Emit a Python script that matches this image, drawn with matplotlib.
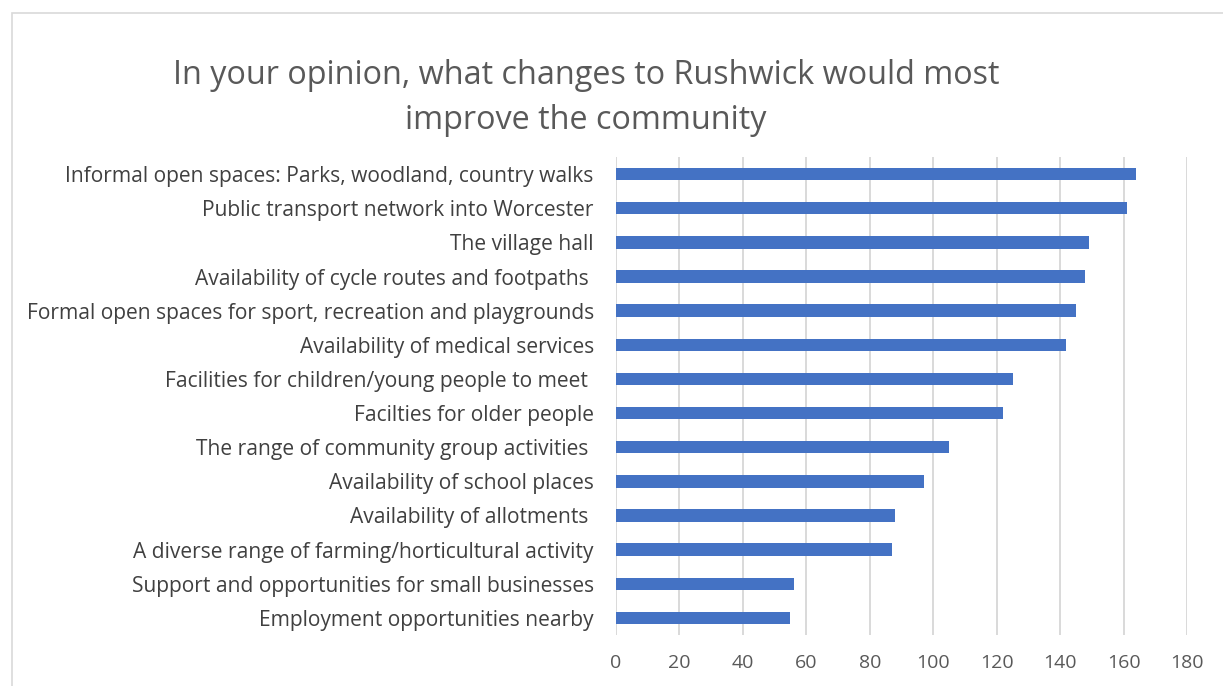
import matplotlib.pyplot as plt
from matplotlib.patches import Rectangle

plt.rcParams['font.family'] = ['Open Sans', 'DejaVu Sans']

# survey answers, top to bottom as shown
labels = [
    "Informal open spaces: Parks, woodland, country walks",
    "Public transport network into Worcester",
    "The village hall",
    "Availability of cycle routes and footpaths ",
    "Formal open spaces for sport, recreation and playgrounds",
    "Availability of medical services",
    "Facilities for children/young people to meet ",
    "Facilties for older people",
    "The range of community group activities ",
    "Availability of school places",
    "Availability of allotments ",
    "A diverse range of farming/horticultural activity",
    "Support and opportunities for small businesses",
    "Employment opportunities nearby",
]
counts = [164, 161, 149, 148, 145, 142, 125, 122, 105, 97, 88, 87, 56, 55]
xticks = [0, 20, 40, 60, 80, 100, 120, 140, 160, 180]

W, H = 1223, 686
fig = plt.figure(figsize=(W / 100, H / 100), dpi=100)

# light chart-area border
fig.patches.append(Rectangle((12 / W, -0.1), 1.2, 1.1 - 13 / H,
                             transform=fig.transFigure, fill=False,
                             edgecolor='#D9D9D9', linewidth=1.2))

ax = fig.add_axes([616 / W, 1 - 635 / H, (1187 - 616) / W, (635 - 157) / H])
ypos = list(range(len(labels)))
ax.barh(ypos, counts, height=0.36, color='#4472C4', zorder=3)

ax.set_xlim(0, 180)
ax.set_ylim(len(labels) - 0.5, -0.5)
ax.set_xticks(xticks)
ax.set_yticks(ypos)
ax.set_yticklabels(labels)
ax.xaxis.grid(True, color='#D9D9D9', linewidth=1.4, zorder=0)
ax.set_axisbelow(True)
for s in ax.spines.values():
    s.set_visible(False)
ax.tick_params(axis='y', length=0, pad=16, labelsize=15.1, labelcolor='#404040')
ax.tick_params(axis='x', length=0, pad=14, labelsize=14, labelcolor='#595959')

fig.text(586 / W, 1 - 98 / H,
         "In your opinion, what changes to Rushwick would most\nimprove the community",
         ha='center', va='center', fontsize=23.3, color='#595959', linespacing=1.5)

fig.savefig("out.png", dpi=100)
